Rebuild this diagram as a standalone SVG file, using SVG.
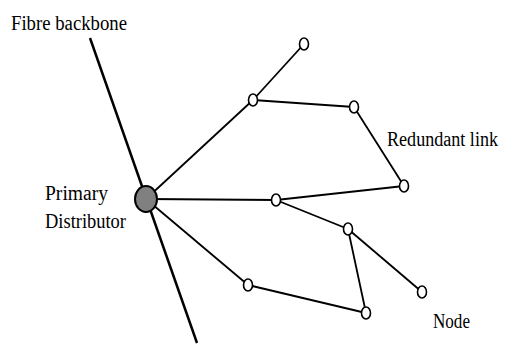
<svg xmlns="http://www.w3.org/2000/svg" width="508" height="345" viewBox="0 0 508 345">
  <style>
    .edge { stroke: #000; stroke-width: 1.8; fill: none; }
    .backbone { stroke: #000; stroke-width: 2.5; fill: none; }
    .node { fill: #fff; stroke: #000; stroke-width: 1.6; }
    .hub { fill: #808080; stroke: #000; stroke-width: 2; }
    .label { font-family: "Liberation Serif", "Times New Roman", serif; font-size: 20px; fill: #000; }
  </style>
  <rect width="508" height="345" fill="#fff"/>

  <!-- connectors -->
  <g id="connectors">
    <line class="backbone" x1="90" y1="38" x2="197" y2="343"/>
    <line class="edge" x1="146" y1="199" x2="253" y2="100"/>
    <line class="edge" x1="253" y1="100" x2="304" y2="44"/>
    <line class="edge" x1="253" y1="100" x2="354" y2="107"/>
    <line class="edge" x1="354" y1="107" x2="404" y2="186"/>
    <line class="edge" x1="404" y1="186" x2="276" y2="200"/>
    <line class="edge" x1="146" y1="199" x2="276" y2="200"/>
    <line class="edge" x1="276" y1="200" x2="348" y2="229"/>
    <line class="edge" x1="348" y1="229" x2="422" y2="292"/>
    <line class="edge" x1="348" y1="229" x2="366" y2="313"/>
    <line class="edge" x1="366" y1="313" x2="248" y2="285"/>
    <line class="edge" x1="146" y1="199" x2="248" y2="285"/>
  </g>

  <!-- primary distributor -->
  <g id="primary-distributor">
    <ellipse class="hub" cx="146" cy="199" rx="11" ry="13"/>
  </g>

  <!-- network nodes -->
  <g id="n1"><ellipse class="node" cx="304" cy="44" rx="4.5" ry="6"/></g>
  <g id="n2"><ellipse class="node" cx="253" cy="100" rx="4.5" ry="6"/></g>
  <g id="n3"><ellipse class="node" cx="354" cy="107" rx="4.5" ry="6"/></g>
  <g id="n4"><ellipse class="node" cx="404" cy="186" rx="4.5" ry="6"/></g>
  <g id="n5"><ellipse class="node" cx="276" cy="200" rx="4.5" ry="6"/></g>
  <g id="n6"><ellipse class="node" cx="348" cy="229" rx="4.5" ry="6"/></g>
  <g id="n7"><ellipse class="node" cx="248" cy="285" rx="4.5" ry="6"/></g>
  <g id="n8"><ellipse class="node" cx="366" cy="313" rx="4.5" ry="6"/></g>
  <g id="n9"><ellipse class="node" cx="422" cy="292" rx="4.5" ry="6"/></g>

  <!-- labels -->
  <g id="labels">
    <text class="label" x="11" y="30" textLength="116" lengthAdjust="spacingAndGlyphs">Fibre backbone</text>
    <text class="label" x="498" y="146" font-size="18" text-anchor="end" textLength="111" lengthAdjust="spacingAndGlyphs">Redundant link</text>
    <text class="label" x="45" y="200" textLength="63" lengthAdjust="spacingAndGlyphs">Primary</text>
    <text class="label" x="45" y="228" textLength="81" lengthAdjust="spacingAndGlyphs">Distributor</text>
    <text class="label" x="433" y="328" textLength="37" lengthAdjust="spacingAndGlyphs">Node</text>
  </g>
</svg>
